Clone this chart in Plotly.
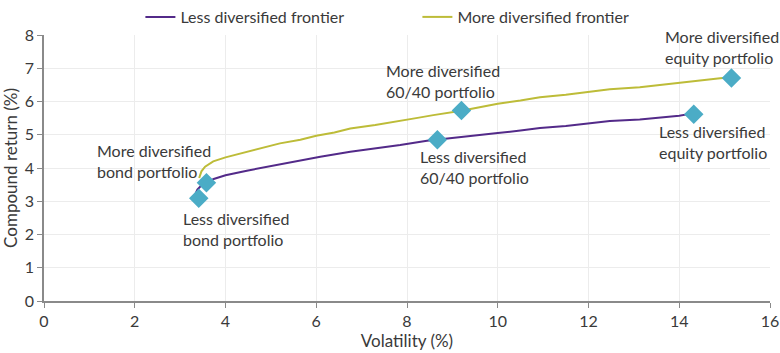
import plotly.graph_objects as go

# Less diversified frontier (volatility %, compound return %)
less_vol = [3.33, 3.38, 3.45, 3.55, 3.74, 4.0, 4.47, 5.2, 5.65, 6.09, 6.75, 7.3, 7.85, 8.44, 8.73,
            9.1, 9.5, 10.0, 10.5, 10.93, 11.5, 12.0, 12.47, 13.13, 13.6, 14.0, 14.2]
less_ret = [3.2, 3.35, 3.45, 3.54, 3.67, 3.78, 3.92, 4.11, 4.22, 4.34, 4.49, 4.58, 4.69, 4.82, 4.86,
            4.93, 4.97, 5.05, 5.13, 5.2, 5.26, 5.34, 5.41, 5.46, 5.51, 5.57, 5.62]

# More diversified frontier
more_vol = [3.42, 3.47, 3.55, 3.73, 4.0, 4.47, 4.8, 5.2, 5.65, 6.0, 6.4, 6.75, 7.3, 7.77, 8.2, 8.58,
            9.2, 9.6, 10.0, 10.5, 10.93, 11.5, 12.0, 12.47, 13.13, 13.6, 14.0, 14.5, 14.9, 15.1]
more_ret = [3.7, 3.9, 4.04, 4.2, 4.32, 4.49, 4.6, 4.74, 4.85, 4.97, 5.07, 5.19, 5.29, 5.39, 5.5, 5.59,
            5.72, 5.83, 5.93, 6.03, 6.13, 6.2, 6.29, 6.37, 6.43, 6.5, 6.58, 6.64, 6.7, 6.72]

# Portfolio markers
port_names = ["Less diversified bond", "More diversified bond", "Less diversified 60/40",
              "More diversified 60/40", "Less diversified equity", "More diversified equity"]
port_vol = [3.41, 3.58, 8.67, 9.2, 14.32, 15.15]
port_ret = [3.09, 3.56, 4.85, 5.73, 5.62, 6.71]

# Annotation labels and anchor positions (data units)
label_text = ["More diversified<br>bond portfolio", "Less diversified<br>bond portfolio",
              "More diversified<br>60/40 portfolio", "Less diversified<br>60/40 portfolio",
              "More diversified<br>equity portfolio", "Less diversified<br>equity portfolio"]
label_x = [1.13, 3.02, 7.49, 8.24, 13.65, 13.52]
label_y = [4.21, 2.17, 6.62, 4.03, 7.65, 4.77]

x_ticks = [0, 2, 4, 6, 8, 10, 12, 14, 16]
y_ticks = [0, 1, 2, 3, 4, 5, 6, 7, 8]

FONT = "Lato"
TXT = "#3a3a3a"
PURPLE = "#532A89"
OLIVE = "#BDBC38"
DIAMOND = "#4BACC6"

fig = go.Figure()
fig.add_trace(go.Scatter(x=less_vol, y=less_ret, mode="lines", name="Less diversified frontier",
                         line=dict(color=PURPLE, width=2)))
fig.add_trace(go.Scatter(x=more_vol, y=more_ret, mode="lines", name="More diversified frontier",
                         line=dict(color=OLIVE, width=2)))
fig.add_trace(go.Scatter(x=port_vol, y=port_ret, mode="markers", name="Portfolios", showlegend=False,
                         text=port_names, hoverinfo="text",
                         marker=dict(symbol="diamond", size=15, color=DIAMOND)))

for t, x, y in zip(label_text, label_x, label_y):
    fig.add_annotation(x=x, y=y, text=t, showarrow=False, xanchor="left", yanchor="middle",
                       align="left", font=dict(family=FONT, size=16, color=TXT))

fig.update_layout(
    width=780, height=353,
    margin=dict(l=44, r=10, t=35, b=52, autoexpand=False),
    paper_bgcolor="white", plot_bgcolor="white",
    font=dict(family=FONT, size=16, color=TXT),
    showlegend=True,
    legend=dict(orientation="h", x=0.18, xanchor="left", xref="container",
                y=1.0, yanchor="top", yref="container",
                font=dict(family=FONT, size=16, color=TXT), entrywidth=232, entrywidthmode="pixels",
                bgcolor="rgba(0,0,0,0)"),
    xaxis=dict(range=[0, 16], tickvals=x_ticks, showgrid=True, gridcolor="#ececec",
               showline=True, linecolor="#8a8a8a", linewidth=1.5, ticks="outside", ticklen=5,
               tickcolor="#8a8a8a", zeroline=False, automargin=False,
               tickfont=dict(size=16),
               title=dict(text="Volatility (%)", standoff=6, font=dict(size=17)),
               fixedrange=True),
    yaxis=dict(range=[0, 8], tickvals=y_ticks, showgrid=True, gridcolor="#ececec",
               showline=True, linecolor="#8a8a8a", linewidth=1.5, ticks="outside", ticklen=5,
               tickcolor="#8a8a8a", zeroline=False, automargin=False,
               tickfont=dict(size=16),
               title=dict(text="Compound return (%)", standoff=6, font=dict(size=17)),
               fixedrange=True),
)

fig.write_html("out.html")
